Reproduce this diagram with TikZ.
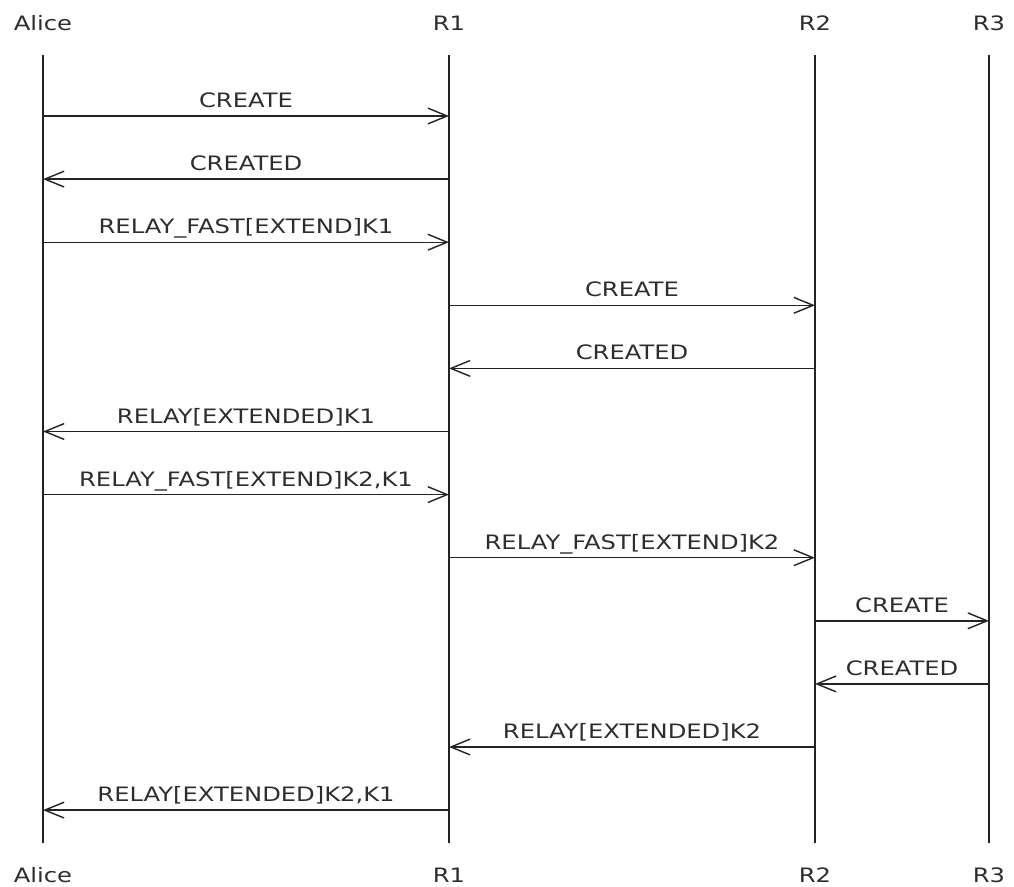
\documentclass[tikz,border=0pt]{standalone}
\usepackage{fontspec}
\setmainfont{DejaVu Sans}[FakeStretch=1.22]
\usetikzlibrary{arrows.meta}
\definecolor{linegray}{RGB}{35, 35, 35}
\definecolor{textgray}{RGB}{45, 45, 45}

\begin{document}
\begin{tikzpicture}[
    x=0.02cm, y=-0.02cm,
    party/.style={font=\fontsize{11.3}{13}\selectfont, text=textgray, anchor=base, inner sep=0pt},
    lifeline/.style={draw=linegray, line width=0.8pt},
    msg/.style={-{Straight Barb[length=11pt, width=9pt]}, linegray, line width=0.8pt},
    lbl/.style={font=\fontsize{11.3}{13}\selectfont, text=textgray, anchor=base, inner sep=0pt, yshift=4.8pt}
]
\useasboundingbox (0,0) rectangle (1014,886);

% Participants and lifelines
\foreach \p/\x/\t in {alice/43/Alice, r1/449/R1, r2/815/R2, r3/989/R3} {
    \node[party] (\p-top) at (\x,30) {\t};
    \node[party] (\p-bot) at (\x,882) {\t};
    \coordinate (\p-start) at (\x,55);
    \coordinate (\p-end) at (\x,843);
    \draw[lifeline] (\p-start) -- (\p-end);
    \foreach \i in {1,...,12}
        \coordinate (\p-\i) at (\x,{116+63.1*(\i-1)});
}

% Messages
\draw[msg] (alice-1) -- node[lbl] {CREATE} (r1-1);
\draw[msg] (r1-2) -- node[lbl] {CREATED} (alice-2);
\draw[msg] (alice-3) -- node[lbl] {RELAY\_FAST[EXTEND]K1} (r1-3);
\draw[msg] (r1-4) -- node[lbl] {CREATE} (r2-4);
\draw[msg] (r2-5) -- node[lbl] {CREATED} (r1-5);
\draw[msg] (r1-6) -- node[lbl] {RELAY[EXTENDED]K1} (alice-6);
\draw[msg] (alice-7) -- node[lbl] {RELAY\_FAST[EXTEND]K2,K1} (r1-7);
\draw[msg] (r1-8) -- node[lbl] {RELAY\_FAST[EXTEND]K2} (r2-8);
\draw[msg] (r2-9) -- node[lbl] {CREATE} (r3-9);
\draw[msg] (r3-10) -- node[lbl] {CREATED} (r2-10);
\draw[msg] (r2-11) -- node[lbl] {RELAY[EXTENDED]K2} (r1-11);
\draw[msg] (r1-12) -- node[lbl] {RELAY[EXTENDED]K2,K1} (alice-12);
\end{tikzpicture}
\end{document}
